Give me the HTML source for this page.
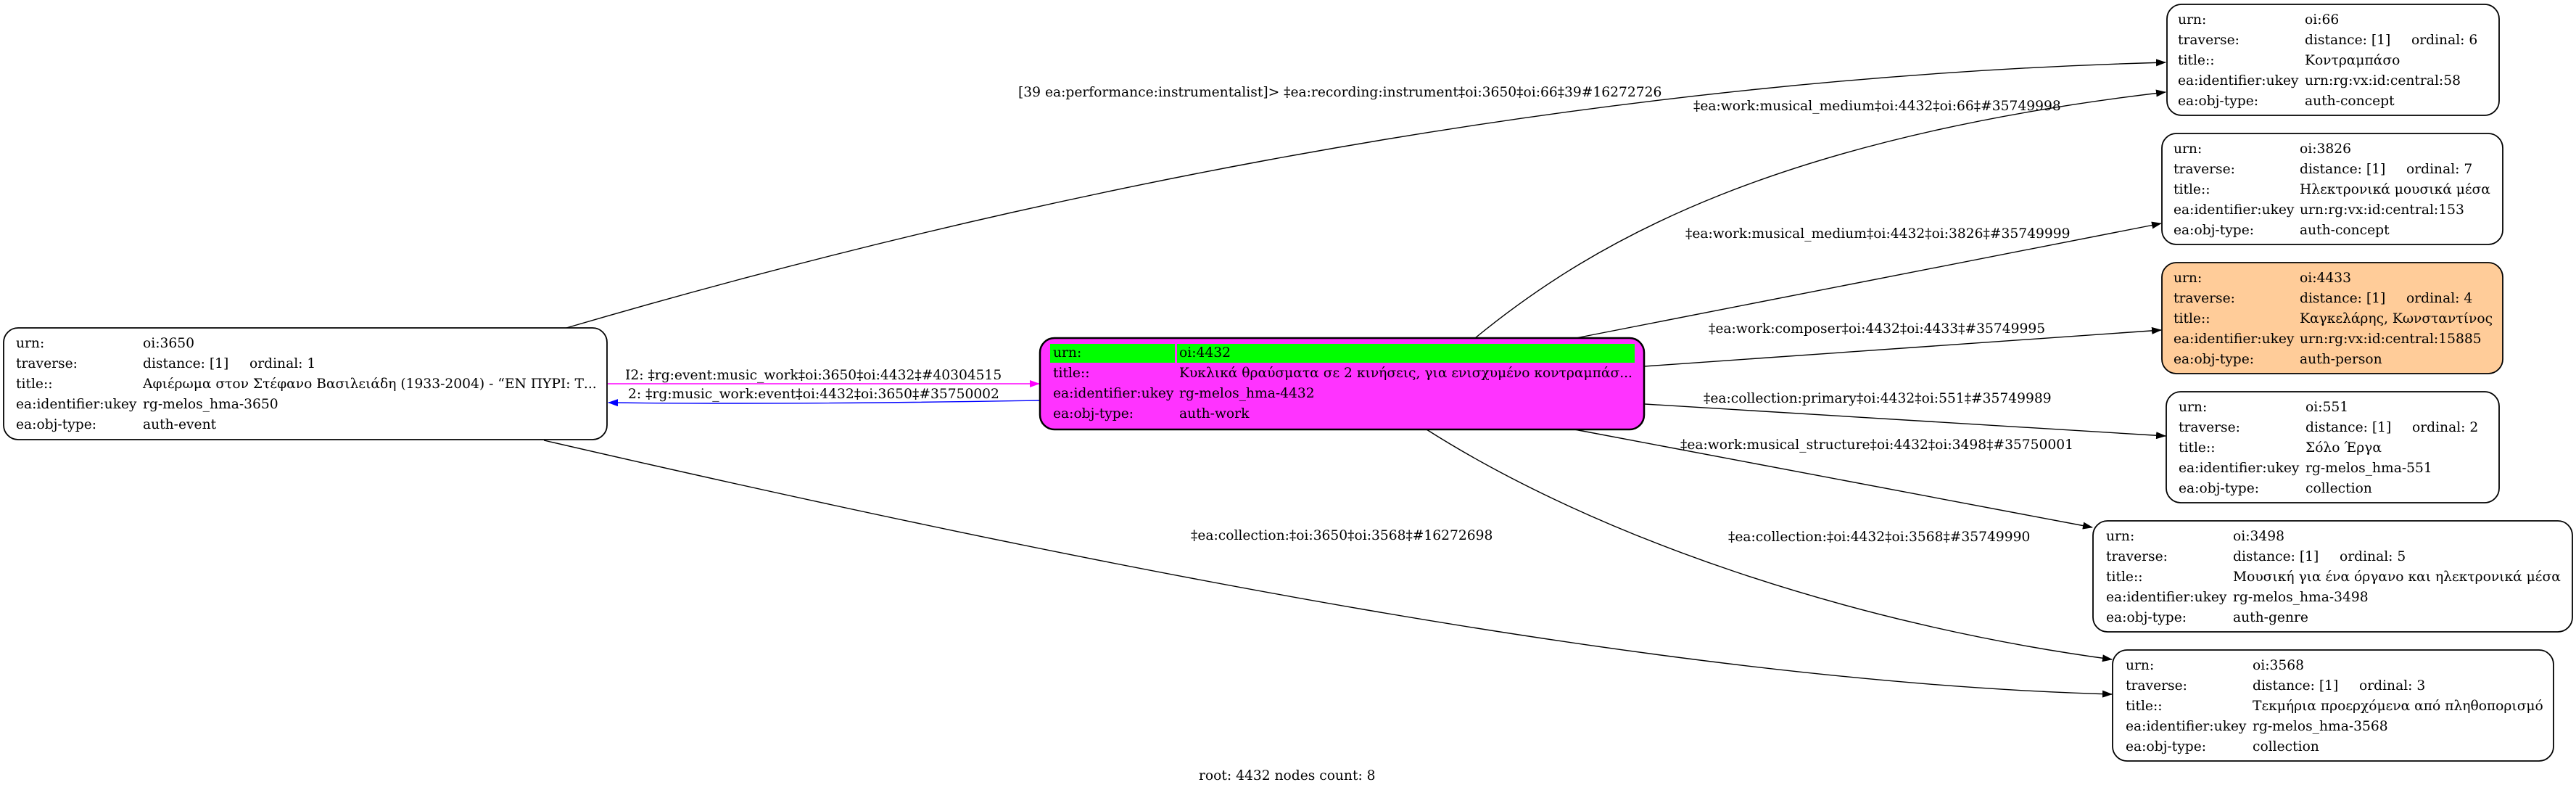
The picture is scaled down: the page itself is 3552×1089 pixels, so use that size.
<!DOCTYPE html>
<html><head><meta charset="utf-8">
<style>
html,body{margin:0;padding:0;background:#fff;}
svg{display:block;}
text{font-family:"DejaVu Serif","Liberation Serif","Noto Serif CJK SC",serif;font-size:18.67px;fill:#000;}
</style></head>
<body>
<svg width="3552" height="1089" viewBox="0 0 3552 1089" xmlns="http://www.w3.org/2000/svg">
<defs>
<marker id="ab" markerWidth="14" markerHeight="10" refX="13" refY="5" orient="auto" markerUnits="userSpaceOnUse"><path d="M0,0 L14,5 L0,10 Z" fill="#000"/></marker>
<marker id="am" markerWidth="14" markerHeight="10" refX="13" refY="5" orient="auto" markerUnits="userSpaceOnUse"><path d="M0,0 L14,5 L0,10 Z" fill="#ff00ff"/></marker>
<marker id="abl" markerWidth="14" markerHeight="10" refX="13" refY="5" orient="auto" markerUnits="userSpaceOnUse"><path d="M0,0 L14,5 L0,10 Z" fill="#0000ff"/></marker>
</defs>

<g fill="none" stroke="#000" stroke-width="1.4">
<path d="M781,452 C1300,300 2100,110 2986,86" marker-end="url(#ab)"/>
<path d="M2034,466 C2200,330 2450,190 2986,127" marker-end="url(#ab)"/>
<path d="M2173,466 L2980,308" marker-end="url(#ab)"/>
<path d="M2267,505 L2980,455" marker-end="url(#ab)"/>
<path d="M2268,557 L2986,601" marker-end="url(#ab)"/>
<path d="M2171,592 L2885,727" marker-end="url(#ab)"/>
<path d="M1967,592 C2200,740 2550,860 2912,909" marker-end="url(#ab)"/>
<path d="M750,607 C1500,780 2300,940 2912,957" marker-end="url(#ab)"/>
</g>
<path d="M838,529 L1433,529" stroke="#ff00ff" stroke-width="1.4" fill="none" marker-end="url(#am)"/>
<path d="M1434,552 C1200,556 1000,557 839,555" stroke="#0000ff" stroke-width="1.4" fill="none" marker-end="url(#abl)"/>

<text x="1404" y="133">[39 ea:performance:instrumentalist]&gt; ‡ea:recording:instrument‡oi:3650‡oi:66‡39#16272726</text>
<text x="2335" y="152">‡ea:work:musical_medium‡oi:4432‡oi:66‡#35749998</text>
<text x="2324" y="328">‡ea:work:musical_medium‡oi:4432‡oi:3826‡#35749999</text>
<text x="2356" y="459">‡ea:work:composer‡oi:4432‡oi:4433‡#35749995</text>
<text x="2349" y="555">‡ea:collection:primary‡oi:4432‡oi:551‡#35749989</text>
<text x="2317" y="619">‡ea:work:musical_structure‡oi:4432‡oi:3498‡#35750001</text>
<text x="2383" y="746">‡ea:collection:‡oi:4432‡oi:3568‡#35749990</text>
<text x="1642" y="744">‡ea:collection:‡oi:3650‡oi:3568‡#16272698</text>
<text x="862" y="523">I2: ‡rg:event:music_work‡oi:3650‡oi:4432‡#40304515</text>
<text x="866" y="549">2: ‡rg:music_work:event‡oi:4432‡oi:3650‡#35750002</text>

<rect x="5" y="452" width="832" height="154" rx="20" fill="#fff" stroke="#000" stroke-width="1.8"/>
<text x="22" y="479">urn:</text><text x="197" y="479">oi:3650</text>
<text x="22" y="507">traverse:</text><text x="197" y="507">distance: [1]</text><text x="344" y="507">ordinal: 1</text>
<text x="22" y="535">title::</text><text x="197" y="535">Αφιέρωμα στον Στέφανο Βασιλειάδη (1933-2004) - “ΕΝ ΠΥΡΙ: Τ...</text>
<text x="22" y="563">ea:identifier:ukey</text><text x="197" y="563">rg-melos_hma-3650</text>
<text x="22" y="591">ea:obj-type:</text><text x="197" y="591">auth-event</text>

<rect x="1434" y="466" width="833" height="126" rx="20" fill="#ff33ff" stroke="#000" stroke-width="2.5"/>
<rect x="1448" y="474" width="172" height="26" fill="#00ff00"/>
<rect x="1623" y="474" width="631" height="26" fill="#00ff00"/>
<text x="1452" y="492">urn:</text><text x="1626" y="492">oi:4432</text>
<text x="1452" y="520">title::</text><text x="1626" y="520">Κυκλικά θραύσματα σε 2 κινήσεις, για ενισχυμένο κοντραμπάσ...</text>
<text x="1452" y="548">ea:identifier:ukey</text><text x="1626" y="548">rg-melos_hma-4432</text>
<text x="1452" y="576">ea:obj-type:</text><text x="1626" y="576">auth-work</text>

<rect x="2988" y="6" width="458" height="153" rx="20" fill="#fff" stroke="#000" stroke-width="1.8"/>
<text x="3003" y="33">urn:</text><text x="3178" y="33">oi:66</text>
<text x="3003" y="61">traverse:</text><text x="3178" y="61">distance: [1]</text><text x="3325" y="61">ordinal: 6</text>
<text x="3003" y="89">title::</text><text x="3178" y="89">Κοντραμπάσο</text>
<text x="3003" y="117">ea:identifier:ukey</text><text x="3178" y="117">urn:rg:vx:id:central:58</text>
<text x="3003" y="145">ea:obj-type:</text><text x="3178" y="145">auth-concept</text>

<rect x="2981" y="184" width="470" height="153" rx="20" fill="#fff" stroke="#000" stroke-width="1.8"/>
<text x="2997" y="211">urn:</text><text x="3171" y="211">oi:3826</text>
<text x="2997" y="239">traverse:</text><text x="3171" y="239">distance: [1]</text><text x="3318" y="239">ordinal: 7</text>
<text x="2997" y="267">title::</text><text x="3171" y="267">Ηλεκτρονικά μουσικά μέσα</text>
<text x="2997" y="295">ea:identifier:ukey</text><text x="3171" y="295">urn:rg:vx:id:central:153</text>
<text x="2997" y="323">ea:obj-type:</text><text x="3171" y="323">auth-concept</text>

<rect x="2981" y="362" width="470" height="153" rx="20" fill="#ffcc99" stroke="#000" stroke-width="1.8"/>
<text x="2997" y="389">urn:</text><text x="3171" y="389">oi:4433</text>
<text x="2997" y="417">traverse:</text><text x="3171" y="417">distance: [1]</text><text x="3318" y="417">ordinal: 4</text>
<text x="2997" y="445">title::</text><text x="3171" y="445">Καγκελάρης, Κωνσταντίνος</text>
<text x="2997" y="473">ea:identifier:ukey</text><text x="3171" y="473">urn:rg:vx:id:central:15885</text>
<text x="2997" y="501">ea:obj-type:</text><text x="3171" y="501">auth-person</text>

<rect x="2987" y="540" width="459" height="153" rx="20" fill="#fff" stroke="#000" stroke-width="1.8"/>
<text x="3004" y="567">urn:</text><text x="3179" y="567">oi:551</text>
<text x="3004" y="595">traverse:</text><text x="3179" y="595">distance: [1]</text><text x="3326" y="595">ordinal: 2</text>
<text x="3004" y="623">title::</text><text x="3179" y="623">Σόλο Έργα</text>
<text x="3004" y="651">ea:identifier:ukey</text><text x="3179" y="651">rg-melos_hma-551</text>
<text x="3004" y="679">ea:obj-type:</text><text x="3179" y="679">collection</text>

<rect x="2886" y="718" width="661" height="153" rx="20" fill="#fff" stroke="#000" stroke-width="1.8"/>
<text x="2904" y="745">urn:</text><text x="3079" y="745">oi:3498</text>
<text x="2904" y="773">traverse:</text><text x="3079" y="773">distance: [1]</text><text x="3226" y="773">ordinal: 5</text>
<text x="2904" y="801">title::</text><text x="3079" y="801">Μουσική για ένα όργανο και ηλεκτρονικά μέσα</text>
<text x="2904" y="829">ea:identifier:ukey</text><text x="3079" y="829">rg-melos_hma-3498</text>
<text x="2904" y="857">ea:obj-type:</text><text x="3079" y="857">auth-genre</text>

<rect x="2913" y="896" width="608" height="153" rx="20" fill="#fff" stroke="#000" stroke-width="1.8"/>
<text x="2931" y="923">urn:</text><text x="3106" y="923">oi:3568</text>
<text x="2931" y="951">traverse:</text><text x="3106" y="951">distance: [1]</text><text x="3253" y="951">ordinal: 3</text>
<text x="2931" y="979">title::</text><text x="3106" y="979">Τεκμήρια προερχόμενα από πληθοπορισμό</text>
<text x="2931" y="1007">ea:identifier:ukey</text><text x="3106" y="1007">rg-melos_hma-3568</text>
<text x="2931" y="1035">ea:obj-type:</text><text x="3106" y="1035">collection</text>

<text x="1653" y="1075">root: 4432 nodes count: 8</text>
</svg>
</body></html>
